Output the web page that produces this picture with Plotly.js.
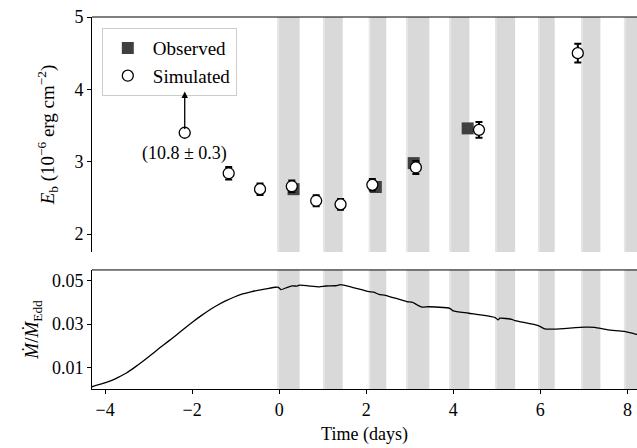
<!DOCTYPE html>
<html><head><meta charset="utf-8">
<script src="https://cdn.plot.ly/plotly-3.0.1.min.js"></script>
<style>html,body{margin:0;padding:0;background:#fff}#chart{width:637px;height:448px}</style>
</head><body><div id="chart"></div>
<script>
// Simulated burst energies
const simT   = [-2.17, -1.16, -0.44, 0.29, 0.85, 1.41, 2.14, 3.14, 4.59, 6.86];
const simE   = [3.40, 2.84, 2.62, 2.66, 2.46, 2.41, 2.68, 2.92, 3.44, 4.50];
const simErr = [0.0, 0.085, 0.08, 0.08, 0.075, 0.075, 0.08, 0.09, 0.11, 0.13];
// Observed burst energies
const obsT   = [0.33, 2.22, 3.09, 4.33];
const obsE   = [2.62, 2.65, 2.98, 3.46];
const obsErr = [0.03, 0.03, 0.04, 0.03];
// Accretion rate curve
const mdotT = [-4.31,-4.10,-3.89,-3.70,-3.51,-3.32,-3.13,-2.94,-2.75,-2.55,-2.36,-2.17,-1.98,-1.79,-1.60,-1.41,-1.22,-1.03,-0.84,-0.65,-0.46,-0.27,-0.08,-0.02,0.04,0.19,0.30,0.42,0.46,0.92,1.07,1.30,1.41,1.68,2.06,2.17,2.29,2.44,2.93,3.05,3.28,3.43,3.92,4.00,4.35,4.96,5.03,5.07,5.34,5.42,5.95,6.10,6.33,7.02,7.25,7.55,7.93,8.16,8.30];
const mdotV = [0.0010,0.0022,0.0036,0.0054,0.0074,0.0100,0.0128,0.0158,0.0189,0.0220,0.0250,0.0281,0.0311,0.0339,0.0365,0.0388,0.0408,0.0425,0.0439,0.0449,0.0457,0.0464,0.0470,0.0470,0.0459,0.0470,0.0476,0.0476,0.0480,0.0472,0.0476,0.0477,0.0482,0.0470,0.0450,0.0448,0.0437,0.0433,0.0404,0.0401,0.0378,0.0380,0.0373,0.0361,0.0350,0.0330,0.0319,0.0327,0.0322,0.0316,0.0293,0.0278,0.0277,0.0286,0.0285,0.0273,0.0266,0.0255,0.0250];
// Observation windows (start, end) in days
const winStart = [-0.04, 1.01, 2.06, 2.92, 3.91, 4.96, 5.95, 6.94, 7.92];
const winEnd   = [0.47, 1.46, 2.46, 3.45, 4.37, 5.42, 6.33, 7.38, 8.40];
// Annotation
const arrowT = -2.17, arrowFrom = 3.43, arrowTo = 3.97;
const labelText = "(10.8 ± 0.3)";

const FONT = "Liberation Serif, DejaVu Serif, serif";
const shapes = [];
for (let i = 0; i < winStart.length; i++) {
  for (const yr of ['y2 domain', 'y domain']) {
    shapes.push({type:'rect', xref:'x', yref:yr, x0:winStart[i], x1:winEnd[i], y0:0, y1:1,
      fillcolor:'#d9d9d9', line:{width:0}, layer:'below'});
    shapes.push({type:'rect', xref:'x', yref:yr, x0:winStart[i], x1:winStart[i]+0.04, y0:0, y1:1,
      fillcolor:'#e6e6e6', line:{width:0}, layer:'below'});
  }
}

const traces = [
  {x: obsT, y: obsE, xaxis:'x', yaxis:'y2', type:'scatter', mode:'markers', name:'Observed',
   marker:{symbol:'square', size:12, color:'#404040'},
   error_y:{type:'data', array:obsErr, color:'#404040', thickness:1.5, width:3}},
  {x: simT, y: simE, xaxis:'x', yaxis:'y2', type:'scatter', mode:'markers', name:'Simulated',
   marker:{symbol:'circle', size:11, color:'#ffffff', line:{color:'#000', width:1.3}},
   error_y:{type:'data', array:simErr, color:'#000', thickness:2, width:3.5}},
  {x: mdotT, y: mdotV, xaxis:'x', yaxis:'y', type:'scatter', mode:'lines', showlegend:false,
   line:{color:'#000', width:1.3, shape:'spline', smoothing:0.5}}
];

const axCommon = {showline:true, linecolor:'#000', linewidth:1, ticks:'outside', ticklen:4,
  tickcolor:'#000', showgrid:false, zeroline:false, tickfont:{family:FONT, size:18, color:'#000'}};

const layout = {
  width:637, height:448, margin:{l:92, r:0, t:17, b:59},
  paper_bgcolor:'#fff', plot_bgcolor:'rgba(0,0,0,0)',
  font:{family:FONT, color:'#000'},
  showlegend:true,
  legend:{x:0.018, y:0.97, xanchor:'left', yanchor:'top', bgcolor:'rgba(255,255,255,0.85)',
    bordercolor:'#cccccc', borderwidth:1, itemwidth:40, font:{family:FONT, size:19, color:'#000'}},
  xaxis: Object.assign({}, axCommon, {range:[-4.3, 8.22], anchor:'y', mirror:false,
    tickvals:[-4,-2,0,2,4,6,8], ticktext:['−4','−2','0','2','4','6','8'],
    title:{text:'Time (days)', font:{family:FONT, size:18}, standoff:8}}),
  xaxis2: Object.assign({}, axCommon, {range:[-4.3, 8.22], anchor:'y2', matches:'x',
    showticklabels:false, tickvals:[-4,-2,0,2,4,6,8]}),
  yaxis: Object.assign({}, axCommon, {domain:[0, 0.32], range:[0, 0.055], anchor:'x',
    tickvals:[0.01,0.03,0.05], ticktext:['0.01','0.03','0.05'],
    title:{text:'<i>Ṁ</i>/<i>Ṁ</i><sub>Edd</sub>', font:{family:FONT, size:19}, standoff:8}}),
  yaxis2: Object.assign({}, axCommon, {domain:[0.368, 1], range:[1.75, 5], anchor:'x2',
    tickvals:[2,3,4,5],
    title:{text:'<i>E</i><sub>b</sub> (10<sup>−6</sup> erg cm<sup>−2</sup>)', font:{family:FONT, size:19}, standoff:14}}),
  shapes: shapes.concat([
    {type:'line', xref:'paper', yref:'paper', x0:0, x1:1, y0:1, y1:1, line:{color:'#000', width:1}},
    {type:'line', xref:'paper', yref:'paper', x0:0, x1:1, y0:0.32, y1:0.32, line:{color:'#000', width:1}}
  ]),
  annotations: [
    {x:arrowT, y:arrowTo, ax:arrowT, ay:arrowFrom, xref:'x', yref:'y2', axref:'x', ayref:'y2',
     text:'', showarrow:true, arrowhead:2, arrowsize:1, arrowwidth:1.3, arrowcolor:'#000'},
    {x:arrowT, y:3.12, xref:'x', yref:'y2', text:labelText, showarrow:false,
     font:{family:FONT, size:18, color:'#000'}}
  ]
};

Plotly.newPlot('chart', traces, layout, {staticPlot:true, displayModeBar:false});
</script></body></html>
